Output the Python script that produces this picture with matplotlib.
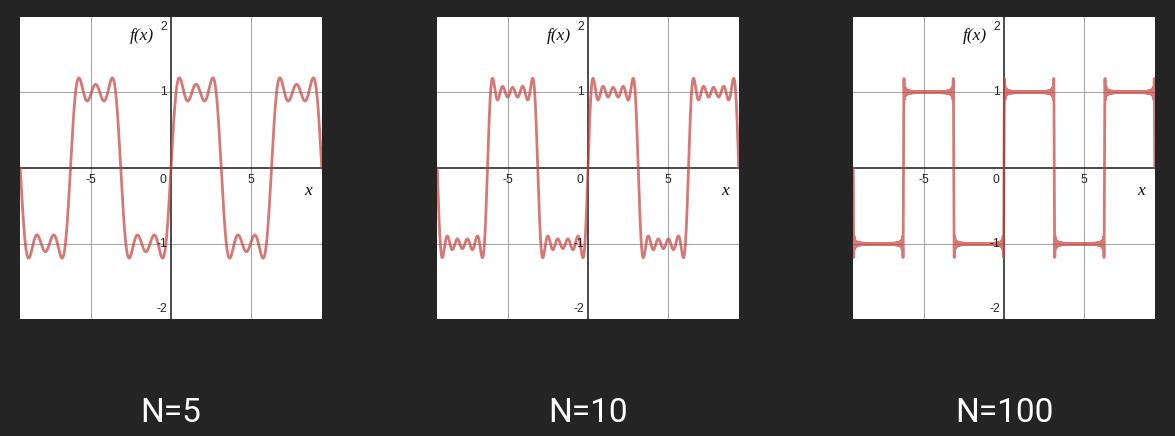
import numpy as np
import matplotlib
matplotlib.use("Agg")
import matplotlib.pyplot as plt
import matplotlib.transforms as mtransforms

# ---- data ----
N_VALUES = [5, 10, 100]          # highest odd harmonic used in each partial sum
TITLES = ["N=5", "N=10", "N=100"]
X_TICKS = [-5, 0, 5]
Y_TICKS = [-2, -1, 1, 2]
X_RANGE = (-3 * np.pi, 3 * np.pi)

# ---- style ----
BG = "#242424"
CURVE = "#c74440"
W, H = 1175, 436
PANEL_LEFT_PX = [20, 437, 853]
PANEL_TOP_PX = 17
PANEL_SIZE_PX = 302
XLIM = (-9.44, 9.44)
YLIM = (-1.99, 1.99)

def square_partial(x, n_max):
    y = np.zeros_like(x)
    for n in range(1, n_max + 1, 2):
        y += np.sin(n * x) / n
    return 4.0 / np.pi * y

fig = plt.figure(figsize=(W / 100, H / 100), dpi=100)
fig.patch.set_facecolor(BG)

tick_font = dict(family="Liberation Sans", size=8.8, color="#222222")
lab_font = dict(family="Liberation Serif", style="italic", size=12.5, color="#111111")

for i, (nv, title) in enumerate(zip(N_VALUES, TITLES)):
    left = PANEL_LEFT_PX[i] / W
    bottom = (H - PANEL_TOP_PX - PANEL_SIZE_PX) / H
    ax = fig.add_axes([left, bottom, PANEL_SIZE_PX / W, PANEL_SIZE_PX / H])
    ax.set_facecolor("white")
    ax.set_xlim(*XLIM)
    ax.set_ylim(*YLIM)
    for s in ax.spines.values():
        s.set_visible(False)
    ax.set_xticks([])
    ax.set_yticks([])

    # grid
    for v in X_TICKS:
        if v != 0:
            ax.axvline(v, color="#a8a8a8", lw=0.8, zorder=1)
    for v in Y_TICKS:
        if abs(v) < 2:
            ax.axhline(v, color="#a8a8a8", lw=0.8, zorder=1)
    # axes
    ax.axhline(0, color="#1a1a1a", lw=1.1, zorder=2)
    ax.axvline(0, color="#1a1a1a", lw=1.1, zorder=2)

    # curve
    npts = 4000 if nv < 50 else 40000
    x = np.linspace(X_RANGE[0], X_RANGE[1], npts)
    y = square_partial(x, nv)
    ax.plot(x, y, color=CURVE, lw=2.0, alpha=0.72, zorder=3,
            solid_joinstyle="round", solid_capstyle="round")

    # tick labels
    for v in X_TICKS:
        if v == 0:
            ax.annotate("0", xy=(0, 0), xytext=(-3.5, -4), textcoords="offset points",
                        ha="right", va="top", zorder=4, **tick_font)
        else:
            ax.annotate(str(v), xy=(v, 0), xytext=(0, -4), textcoords="offset points",
                        ha="center", va="top", zorder=4, **tick_font)
    for v in Y_TICKS:
        if v == max(Y_TICKS):
            ax.annotate(str(v), xy=(0, YLIM[1]), xytext=(-3, -3), textcoords="offset points",
                        ha="right", va="top", zorder=4, **tick_font)
        elif v == min(Y_TICKS):
            ax.annotate(str(v), xy=(0, YLIM[0]), xytext=(-2.5, 3), textcoords="offset points",
                        ha="right", va="bottom", zorder=4, **tick_font)
        else:
            ax.annotate(str(v), xy=(0, v), xytext=(-3, 0), textcoords="offset points",
                        ha="right", va="center", zorder=4, **tick_font)

    ax.text(-1.05, 1.74, "f(x)", ha="right", va="center", zorder=4, **lab_font)
    ax.text(8.56, -0.30, "x", ha="center", va="center", zorder=4, **lab_font)

    # title under panel, centered on x=0
    tr = mtransforms.blended_transform_factory(ax.transData, fig.transFigure)
    fig.text(0, 23 / H, title, transform=tr, ha="center", va="center",
             color="white", fontsize=24, family="Roboto")

fig.savefig("out.png", dpi=100, facecolor=fig.get_facecolor())
